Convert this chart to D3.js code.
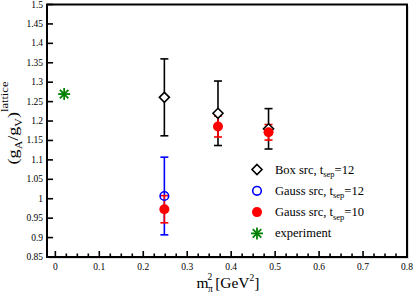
<!DOCTYPE html>
<html><head><meta charset="utf-8">
<script src="https://cdn.jsdelivr.net/npm/d3@7"></script>
<style>body{margin:0;background:#fff}svg{display:block}</style>
</head><body><svg id="c" width="415" height="295"></svg>
<script>
// Data
const boxX = [0.248, 0.370, 0.485];
const boxY = [1.261, 1.220, 1.180];
const boxErr = [0.099, 0.083, 0.052];
const gauss12X = [0.248];
const gauss12Y = [1.007];
const gauss12Err = [0.100];
const gauss10X = [0.248, 0.370, 0.485];
const gauss10Y = [0.973, 1.186, 1.171];
const gauss10Err = [0.035, 0.027, 0.020];
const expX = [0.020];
const expY = [1.2695];
const xTicks = [0, 0.1, 0.2, 0.3, 0.4, 0.5, 0.6, 0.7, 0.8];
const yTicks = [0.85, 0.9, 0.95, 1, 1.05, 1.1, 1.15, 1.2, 1.25, 1.3, 1.35, 1.4, 1.45, 1.5];
const legendLabels = ["Box src, t", "Gauss src, t", "Gauss src, t", "experiment"];
const legendSubs = ["sep", "sep", "sep", ""];
const legendTails = ["=12", "=12", "=10", ""];

const FONT = "'Liberation Serif', serif";
const svg = d3.select("#c");
const L = 47, R = 407, T = 4.5, B = 257;
const x = d3.scaleLinear().domain([-0.019, 0.8]).range([L, R]);
const y = d3.scaleLinear().domain([0.85, 1.5]).range([B, T]);

// shadow
svg.append("rect").attr("x", L + 2).attr("y", T + 2).attr("width", R - L).attr("height", B - T).attr("fill", "#ddd");
svg.append("rect").attr("x", L).attr("y", T).attr("width", R - L).attr("height", B - T)
  .attr("fill", "#fff").attr("stroke", "#000").attr("stroke-width", 2);

// x ticks
const minor = d3.range(0, 0.8001, 0.025);
svg.append("g").selectAll("line").data(minor).join("line")
  .attr("x1", d => x(d)).attr("x2", d => x(d))
  .attr("y1", B).attr("y2", d => Math.abs(d * 10 - Math.round(d * 10)) < 1e-6 ? B - 6 : B - 3.5)
  .attr("stroke", "#000").attr("stroke-width", 1.6);
svg.append("g").selectAll("text").data(xTicks).join("text")
  .style("font-family", FONT)
  .attr("x", d => x(d)).attr("y", B + 13).attr("text-anchor", "middle")
  .attr("font-size", 9.5).text(d => d);

// y ticks
svg.append("g").selectAll("line").data(yTicks).join("line")
  .attr("x1", L).attr("x2", L + 6).attr("y1", d => y(d)).attr("y2", d => y(d))
  .attr("stroke", "#000").attr("stroke-width", 1.6);
svg.append("g").selectAll("text").data(yTicks).join("text")
  .style("font-family", FONT)
  .attr("x", L - 4).attr("y", d => y(d) + 3).attr("text-anchor", "end")
  .attr("font-size", 9.5).text(d => d);

// axis labels
const xl = svg.append("text").style("font-family", FONT).attr("x", 228).attr("y", 288).attr("text-anchor", "middle").attr("font-size", 15.5);
xl.append("tspan").text("m");
xl.append("tspan").attr("font-size", 9.5).attr("dy", 4).attr("dx", -0.5).text("π");
xl.append("tspan").attr("font-size", 9.5).attr("dy", -12.5).attr("dx", -5.5).text("2");
xl.append("tspan").attr("dy", 8.5).attr("dx", 3).text("[GeV");
xl.append("tspan").attr("font-size", 9.5).attr("dy", -7).text("2");
xl.append("tspan").attr("dy", 7).text("]");

const yl = svg.append("text").style("font-family", FONT)
  .attr("transform", "translate(18,123) rotate(-90) scale(1.25,1)")
  .attr("text-anchor", "middle").attr("font-size", 14.5);
yl.append("tspan").text("(g");
yl.append("tspan").attr("font-size", 9.5).attr("dy", 4).text("A");
yl.append("tspan").attr("dy", -4).text("/g");
yl.append("tspan").attr("font-size", 9.5).attr("dy", 4).text("V");
yl.append("tspan").attr("dy", -4).text(")");
yl.append("tspan").attr("font-size", 10).attr("dy", -10.5).text("lattice");

// error bars
function errBars(xs, ys, es, color) {
  const g = svg.append("g").attr("stroke", color).attr("stroke-width", 1.6);
  xs.forEach((xv, i) => {
    const cx = x(xv), y0 = y(ys[i] - es[i]), y1 = y(ys[i] + es[i]);
    g.append("line").attr("x1", cx).attr("x2", cx).attr("y1", y0).attr("y2", y1);
    g.append("line").attr("x1", cx - 4).attr("x2", cx + 4).attr("y1", y0).attr("y2", y0);
    g.append("line").attr("x1", cx - 4).attr("x2", cx + 4).attr("y1", y1).attr("y2", y1);
  });
}
errBars(boxX, boxY, boxErr, "#000");
errBars(gauss12X, gauss12Y, gauss12Err, "#0000ff");
errBars(gauss10X, gauss10Y, gauss10Err, "#ff0000");

function diamond(g, cx, cy) {
  g.append("path").attr("d", `M${cx},${cy - 5}L${cx + 5},${cy}L${cx},${cy + 5}L${cx - 5},${cy}Z`)
    .attr("fill", "#fff").attr("stroke", "#000").attr("stroke-width", 1.6);
}
function openCircle(g, cx, cy) {
  g.append("circle").attr("cx", cx).attr("cy", cy).attr("r", 4.3).attr("fill", "none").attr("stroke", "#0000ff").attr("stroke-width", 1.6);
}
function filledCircle(g, cx, cy) {
  g.append("circle").attr("cx", cx).attr("cy", cy).attr("r", 5).attr("fill", "#ff0000");
}
function star(g, cx, cy) {
  const s = 6;
  const gg = g.append("g").attr("stroke", "#008000").attr("stroke-width", 1.8);
  [0, 45, 90, 135].forEach(a => {
    const r = a * Math.PI / 180;
    gg.append("line").attr("x1", cx - s * Math.cos(r)).attr("y1", cy - s * Math.sin(r))
      .attr("x2", cx + s * Math.cos(r)).attr("y2", cy + s * Math.sin(r));
  });
}
const pg = svg.append("g");
boxX.forEach((v, i) => diamond(pg, x(v), y(boxY[i])));
gauss12X.forEach((v, i) => openCircle(pg, x(v), y(gauss12Y[i])));
gauss10X.forEach((v, i) => filledCircle(pg, x(v), y(gauss10Y[i])));
expX.forEach((v, i) => star(pg, x(v), y(expY[i])));

// legend
const markers = [diamond, openCircle, filledCircle, star];
const lg = svg.append("g");
legendLabels.forEach((lab, i) => {
  const ry = 169.5 + i * 21.3;
  markers[i](lg, 257, ry);
  const t = lg.append("text").style("font-family", FONT).attr("x", 275).attr("y", ry + 4).attr("font-size", 12.5);
  t.append("tspan").text(lab);
  if (legendSubs[i]) {
    t.append("tspan").attr("font-size", 8.5).attr("dy", 3.5).text(legendSubs[i]);
    t.append("tspan").attr("dy", -3.5).text(legendTails[i]);
  }
});
</script></body></html>
